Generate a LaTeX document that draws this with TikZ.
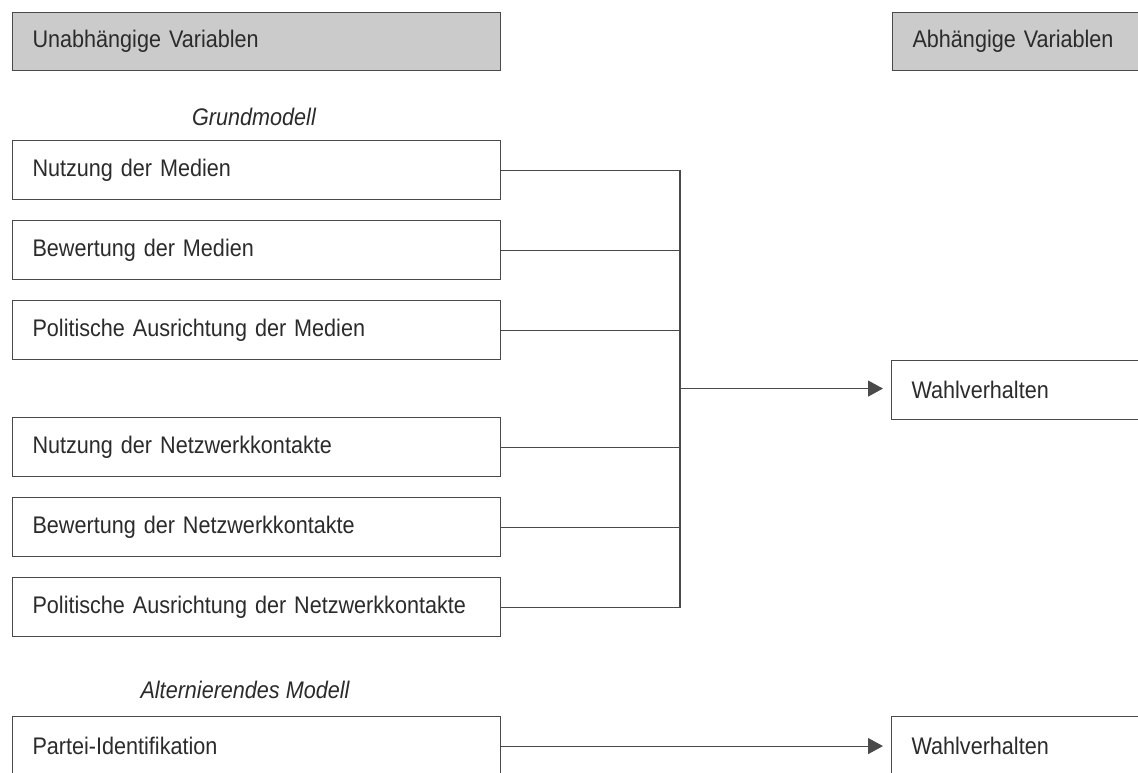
\documentclass[tikz,border=0pt]{standalone}
\usepackage{fontspec}
\setmainfont{Liberation Sans}[FakeStretch=0.9]
\usetikzlibrary{arrows.meta,calc}
\definecolor{linec}{HTML}{4A4A4A}
\definecolor{textc}{HTML}{2B2B2B}
\definecolor{headfill}{HTML}{CBCBCB}
\tikzset{
  varbox/.style={draw=linec, line width=1.1pt, rectangle, anchor=north west,
    minimum height=59pt, inner xsep=20pt, inner ysep=0pt, text width=448pt, align=left,
    text=textc, font=\fontsize{24}{28}\selectfont},
  rightbox/.style={varbox, text width=260pt},
  headbox/.style={varbox, fill=headfill, minimum height=58pt},
  rightheadbox/.style={headbox, text width=260pt},
  modeltitle/.style={text=textc, font=\fontsize{24}{28}\selectfont\itshape},
  link/.style={draw=linec, line width=1.1pt},
  arrowlink/.style={link, -{Triangle[length=15pt,width=16pt]}, shorten >=8pt}
}
\begin{document}
\begin{tikzpicture}[x=1pt,y=-1pt]
\useasboundingbox (0,0) rectangle (1138,772);
\fill[white] (0,0) rectangle (1138,772);
\clip (0,0) rectangle (1138,772);
% headers
\node[headbox] (hl) at (12,12) {Unabhängige Variablen};
\node[rightheadbox] (hr) at (892,12) {Abhängige Variablen};
% model titles
\node[modeltitle] (gm) at (254,117) {Grundmodell};
\node[modeltitle] (am) at (245,690) {Alternierendes Modell};
% independent variables
\node[varbox] (b1) at (12,140) {Nutzung der Medien};
\node[varbox] (b2) at (12,220) {Bewertung der Medien};
\node[varbox] (b3) at (12,300) {Politische Ausrichtung der Medien};
\node[varbox] (b4) at (12,417) {Nutzung der Netzwerkkontakte};
\node[varbox] (b5) at (12,497) {Bewertung der Netzwerkkontakte};
\node[varbox] (b6) at (12,577) {Politische Ausrichtung der Netzwerkkontakte};
\node[varbox] (pi) at (12,716) {Partei-Identifikation};
% dependent variables
\node[rightbox] (wv1) at (891,360) {Wahlverhalten};
\node[rightbox] (wv2) at (891,716) {Wahlverhalten};
% junction
\coordinate (jx) at (680,0);
\coordinate (j) at ($(b1.east -| jx)!0.5!(b6.east -| jx)$);
\foreach \b in {b1,b2,b3,b4,b5,b6} {
  \draw[link] (\b.east) -- (\b.east -| jx);
}
\draw[link, line cap=rect] (b1.east -| jx) -- (b6.east -| jx);
\draw[arrowlink] (j) -- (j -| wv1.west);
\draw[arrowlink] (pi.east) -- (pi.east -| wv2.west);
\end{tikzpicture}
\end{document}
